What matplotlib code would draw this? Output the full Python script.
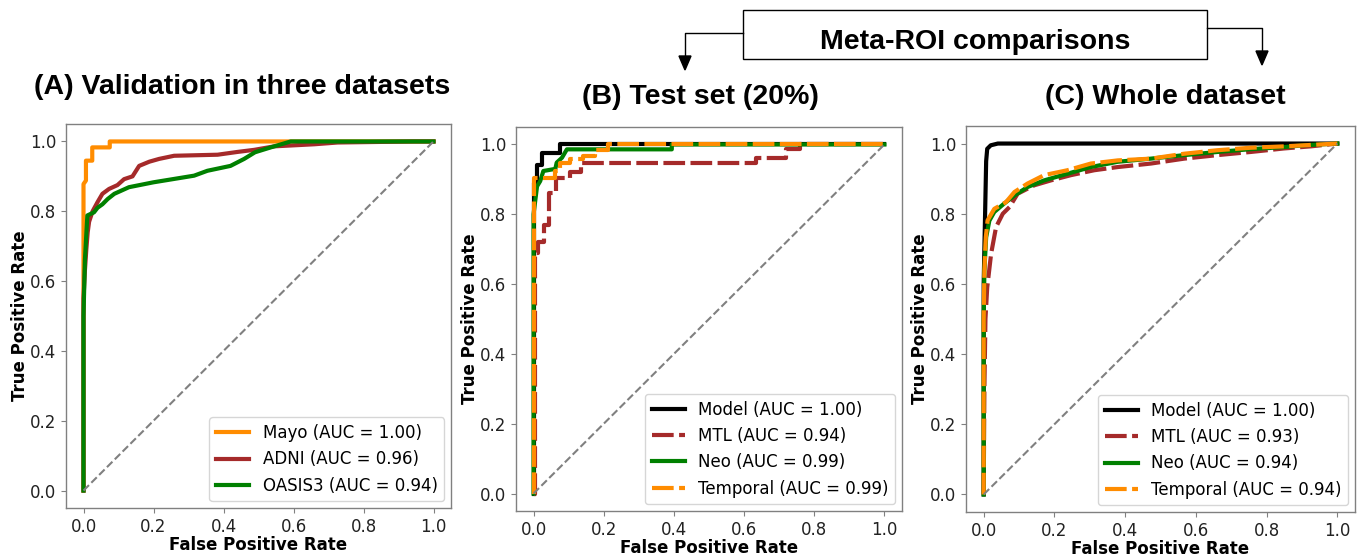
import matplotlib
matplotlib.use("Agg")
import matplotlib.pyplot as plt
from matplotlib.lines import Line2D
from matplotlib.patches import Rectangle, Polygon

# ---------------- data ----------------
# Panel A: validation in three datasets
mayo_fpr = [0, 0, 0.007, 0.007, 0.025, 0.025, 0.075, 0.075, 1.0]
mayo_tpr = [0, 0.878, 0.888, 0.945, 0.945, 0.983, 0.983, 1.0, 1.0]

adni_fpr = [0, 0, 0.004, 0.008, 0.012, 0.016, 0.026, 0.04, 0.054, 0.073, 0.097,
            0.116, 0.14, 0.159, 0.188, 0.216, 0.259, 0.383, 0.44, 0.488, 0.545,
            0.66, 0.726, 0.945, 1.0]
adni_tpr = [0, 0.55, 0.63, 0.69, 0.74, 0.77, 0.80, 0.826, 0.85, 0.864, 0.875,
            0.892, 0.90, 0.93, 0.942, 0.95, 0.959, 0.962, 0.97, 0.976, 0.986,
            0.992, 0.997, 1.0, 1.0]

oasis_fpr = [0, 0, 0.004, 0.011, 0.03, 0.04, 0.054, 0.069, 0.088, 0.13, 0.2,
             0.316, 0.354, 0.42, 0.459, 0.49, 0.535, 0.592, 1.0]
oasis_tpr = [0, 0.5, 0.66, 0.788, 0.797, 0.81, 0.82, 0.835, 0.85, 0.869, 0.883,
             0.902, 0.916, 0.93, 0.95, 0.969, 0.983, 1.0, 1.0]

# Panel B: test set (20%)
b_model_fpr = [0, 0, 0.01, 0.01, 0.024, 0.024, 0.075, 0.075, 1.0]
b_model_tpr = [0, 0.89, 0.89, 0.94, 0.94, 0.976, 0.976, 1.0, 1.0]

b_mtl_fpr = [0, 0.005, 0.005, 0.014, 0.014, 0.03, 0.03, 0.045, 0.045, 0.065, 0.065,
             0.105, 0.105, 0.135, 0.135, 0.635, 0.635, 0.72, 0.72, 0.76, 0.76, 1.0]
b_mtl_tpr = [0, 0, 0.69, 0.69, 0.72, 0.72, 0.77, 0.77, 0.86, 0.86, 0.905,
             0.905, 0.92, 0.92, 0.946, 0.946, 0.962, 0.962, 0.986, 0.986, 1.0, 1.0]

b_neo_fpr = [0, 0, 0.01, 0.019, 0.028, 0.062, 0.066, 0.081, 0.095, 0.394, 0.394, 1.0]
b_neo_tpr = [0, 0.80, 0.88, 0.895, 0.924, 0.93, 0.948, 0.962, 0.986, 0.986, 1.0, 1.0]

b_temp_fpr = [0, 0, 0.062, 0.062, 0.075, 0.075, 0.105, 0.105, 0.14, 0.14, 0.175,
              0.175, 0.213, 0.213, 1.0]
b_temp_tpr = [0, 0.905, 0.905, 0.925, 0.925, 0.948, 0.948, 0.958, 0.958, 0.967,
              0.967, 0.985, 0.985, 1.0, 1.0]

# Panel C: whole dataset
c_model_fpr = [0, 0, 0.004, 0.007, 0.01, 0.02, 0.04, 1.0]
c_model_tpr = [0, 0.6, 0.8, 0.95, 0.985, 0.995, 1.0, 1.0]

c_mtl_fpr = [0, 0.002, 0.005, 0.01, 0.021, 0.035, 0.054, 0.073, 0.096, 0.143, 0.19,
             0.247, 0.313, 0.379, 0.473, 0.567, 0.661, 0.755, 0.849, 0.925, 1.0]
c_mtl_tpr = [0, 0.3, 0.5, 0.59, 0.686, 0.762, 0.80, 0.819, 0.857, 0.881, 0.895,
             0.91, 0.924, 0.933, 0.943, 0.957, 0.967, 0.976, 0.986, 0.992, 1.0]

c_neo_fpr = [0, 0, 0.002, 0.007, 0.016, 0.03, 0.058, 0.087, 0.124, 0.171, 0.237,
             0.303, 0.379, 0.473, 0.567, 0.661, 0.755, 0.849, 0.906, 1.0]
c_neo_tpr = [0, 0.495, 0.638, 0.733, 0.78, 0.805, 0.829, 0.852, 0.876, 0.895, 0.914,
             0.933, 0.948, 0.957, 0.967, 0.976, 0.984, 0.99, 0.995, 1.0]

c_temp_fpr = [0, 0, 0.002, 0.006, 0.011, 0.03, 0.063, 0.087, 0.124, 0.171, 0.237,
              0.303, 0.379, 0.473, 0.567, 0.661, 0.755, 0.849, 1.0]
c_temp_tpr = [0, 0.495, 0.638, 0.733, 0.781, 0.814, 0.833, 0.862, 0.886, 0.91, 0.924,
              0.943, 0.952, 0.957, 0.971, 0.981, 0.988, 0.992, 1.0]

labels_a = ["Mayo (AUC = 1.00)", "ADNI (AUC = 0.96)", "OASIS3 (AUC = 0.94)"]
labels_b = ["Model (AUC = 1.00)", "MTL (AUC = 0.94)", "Neo (AUC = 0.99)", "Temporal (AUC = 0.99)"]
labels_c = ["Model (AUC = 1.00)", "MTL (AUC = 0.93)", "Neo (AUC = 0.94)", "Temporal (AUC = 0.94)"]
titles = ["(A) Validation in three datasets", "(B) Test set (20%)", "(C) Whole dataset"]
banner = "Meta-ROI comparisons"
ticks = [0.0, 0.2, 0.4, 0.6, 0.8, 1.0]

# ---------------- figure ----------------
W, H = 1364, 556
fig = plt.figure(figsize=(W / 100, H / 100), dpi=100)

def fx(px):
    return px / W

def fy(py):
    return 1 - py / H

def make_ax(left, top, right, bottom):
    return fig.add_axes([fx(left), fy(bottom), fx(right) - fx(left), fy(top) - fy(bottom)])

axA = make_ax(66, 124, 451, 508)
axB = make_ax(516, 127, 902, 511)
axC = make_ax(966, 126, 1355, 512)

ORANGE = "darkorange"
BROWN = "brown"
GREEN = "green"
LW = 3
DASH = (5.2, 1.3)

axA.plot(mayo_fpr, mayo_tpr, color=ORANGE, lw=LW, label=labels_a[0])
axA.plot(adni_fpr, adni_tpr, color=BROWN, lw=LW, label=labels_a[1])
axA.plot(oasis_fpr, oasis_tpr, color=GREEN, lw=LW, label=labels_a[2])

for ax, data, labs in [
    (axB, [(b_model_fpr, b_model_tpr), (b_mtl_fpr, b_mtl_tpr), (b_neo_fpr, b_neo_tpr), (b_temp_fpr, b_temp_tpr)], labels_b),
    (axC, [(c_model_fpr, c_model_tpr), (c_mtl_fpr, c_mtl_tpr), (c_neo_fpr, c_neo_tpr), (c_temp_fpr, c_temp_tpr)], labels_c),
]:
    ax.plot(data[0][0], data[0][1], color="black", lw=LW, label=labs[0])
    l, = ax.plot(data[1][0], data[1][1], color=BROWN, lw=LW, ls="--", label=labs[1])
    l.set_dashes(DASH)
    ax.plot(data[2][0], data[2][1], color=GREEN, lw=LW, label=labs[2])
    l, = ax.plot(data[3][0], data[3][1], color=ORANGE, lw=LW, ls="--", label=labs[3])
    l.set_dashes(DASH)

for ax in (axA, axB, axC):
    ax.plot([0, 1], [0, 1], color="gray", ls="--", lw=1.5)
    ax.set_xlim(-0.05, 1.05)
    ax.set_ylim(-0.05, 1.05)
    ax.set_xticks(ticks)
    ax.set_yticks(ticks)
    ax.tick_params(labelsize=12, color="#808080", labelcolor="#222222")
    for s in ax.spines.values():
        s.set_color("#808080")
        s.set_linewidth(1.0)
    ax.set_xlabel("False Positive Rate", fontsize=12, fontweight="bold", labelpad=0)
    ax.set_ylabel("True Positive Rate", fontsize=12, fontweight="bold", labelpad=0.5)
    ax.legend(loc="lower right", fontsize=12, handlelength=2.0, borderaxespad=0.4)

TFONT = ["Liberation Sans", "DejaVu Sans"]
TSIZE = 20.5
fig.text(fx(242), fy(94), titles[0], fontsize=TSIZE, fontweight="bold", family=TFONT,
         ha="center", va="baseline")
fig.text(fx(700), fy(104), titles[1], fontsize=TSIZE, fontweight="bold", family=TFONT,
         ha="center", va="baseline")
fig.text(fx(1165), fy(104), titles[2], fontsize=TSIZE, fontweight="bold", family=TFONT,
         ha="center", va="baseline")

# banner box with arrows
fig.add_artist(Rectangle((fx(743), fy(59)), fx(1207) - fx(743), fy(10) - fy(59),
                         transform=fig.transFigure, facecolor="white",
                         edgecolor="black", lw=1.0))
fig.text(fx(975), fy(49), banner, fontsize=TSIZE, fontweight="bold", family=TFONT,
         ha="center", va="baseline")
fig.add_artist(Line2D([fx(743), fx(685), fx(685)], [fy(33), fy(33), fy(56)],
                      transform=fig.transFigure, color="black", lw=1.0))
fig.add_artist(Polygon([(fx(679), fy(56)), (fx(691), fy(56)), (fx(685), fy(70))],
                       closed=True, transform=fig.transFigure, color="black"))
fig.add_artist(Line2D([fx(1207), fx(1262), fx(1262)], [fy(28), fy(28), fy(51)],
                      transform=fig.transFigure, color="black", lw=1.0))
fig.add_artist(Polygon([(fx(1256), fy(51)), (fx(1268), fy(51)), (fx(1262), fy(65))],
                       closed=True, transform=fig.transFigure, color="black"))

fig.savefig("out.png", dpi=100)
